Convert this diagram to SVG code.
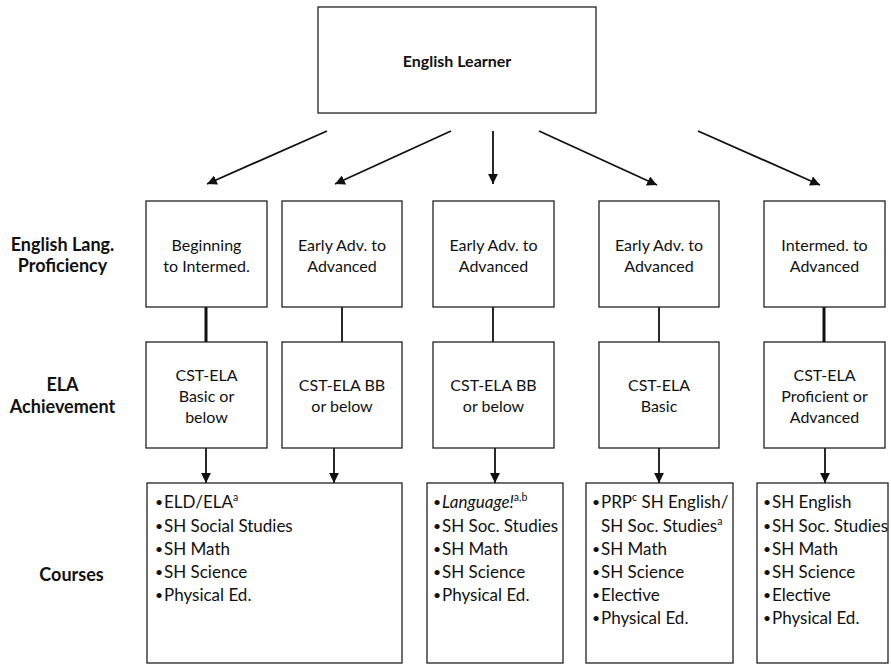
<svg xmlns="http://www.w3.org/2000/svg" width="891" height="665" viewBox="0 0 891 665">
<style>
text{font-family:Lato,"Open Sans","Liberation Sans",sans-serif;fill:#111;font-size:16px}
.c{text-anchor:middle}
.b{font-weight:bold}
.lbl{font-size:18px;font-weight:bold;text-anchor:middle}
.li{font-size:17px}
.bu{font-size:14px}
.box{fill:#fff;stroke:#222;stroke-width:1.3}
.ln{stroke:#111;stroke-width:1.8;fill:none}
.thk{stroke:#111;stroke-width:3;fill:none}
.sup{font-size:10.5px}
</style>
<defs>
<marker id="ah" viewBox="0 0 10 10" refX="10" refY="5" markerWidth="5.5" markerHeight="5.5" orient="auto" markerUnits="strokeWidth">
<path d="M0,0 L10,5 L0,10 z" fill="#111"/>
</marker>
</defs>
<rect width="891" height="665" fill="#fff"/>

<g id="labels">
<text class="lbl" x="62.5" y="251">English Lang.</text>
<text class="lbl" x="62.5" y="272">Proficiency</text>
<text class="lbl" x="62.5" y="391">ELA</text>
<text class="lbl" x="62.5" y="413">Achievement</text>
<text class="lbl" x="71.5" y="581">Courses</text>
</g>

<g id="connectors">
<line class="ln" x1="327" y1="131" x2="207" y2="184" marker-end="url(#ah)"/>
<line class="ln" x1="451" y1="131" x2="335" y2="184" marker-end="url(#ah)"/>
<line class="ln" x1="493" y1="131" x2="493" y2="184" marker-end="url(#ah)"/>
<line class="ln" x1="539" y1="131" x2="657" y2="185" marker-end="url(#ah)"/>
<line class="ln" x1="698" y1="131" x2="820" y2="185" marker-end="url(#ah)"/>
<line class="thk" x1="206" y1="307" x2="206" y2="342"/>
<line class="ln" x1="342" y1="307" x2="342" y2="342"/>
<line class="ln" x1="493" y1="307" x2="493" y2="342"/>
<line class="ln" x1="659" y1="307" x2="659" y2="342"/>
<line class="thk" x1="824" y1="307" x2="824" y2="342"/>
<line class="ln" x1="206" y1="448" x2="206" y2="483" marker-end="url(#ah)"/>
<line class="ln" x1="334" y1="448" x2="334" y2="483" marker-end="url(#ah)"/>
<line class="ln" x1="495" y1="448" x2="495" y2="483" marker-end="url(#ah)"/>
<line class="ln" x1="659" y1="448" x2="659" y2="483" marker-end="url(#ah)"/>
<line class="ln" x1="825" y1="448" x2="825" y2="483" marker-end="url(#ah)"/>
</g>

<g id="english-learner">
<rect class="box" x="318" y="7" width="278" height="106"/>
<text class="c b" x="457" y="67">English Learner</text>
</g>

<g id="elp1">
<rect class="box" x="146" y="201" width="121" height="106"/>
<text class="c" x="206.5" y="251">Beginning</text>
<text class="c" x="206.5" y="272">to Intermed.</text>
</g>
<g id="elp2">
<rect class="box" x="282" y="201" width="120" height="106"/>
<text class="c" x="342" y="251">Early Adv. to</text>
<text class="c" x="342" y="272">Advanced</text>
</g>
<g id="elp3">
<rect class="box" x="433" y="201" width="121" height="106"/>
<text class="c" x="493.5" y="251">Early Adv. to</text>
<text class="c" x="493.5" y="272">Advanced</text>
</g>
<g id="elp4">
<rect class="box" x="599" y="201" width="120" height="106"/>
<text class="c" x="659" y="251">Early Adv. to</text>
<text class="c" x="659" y="272">Advanced</text>
</g>
<g id="elp5">
<rect class="box" x="764" y="201" width="121" height="106"/>
<text class="c" x="824.5" y="251">Intermed. to</text>
<text class="c" x="824.5" y="272">Advanced</text>
</g>

<g id="ela1">
<rect class="box" x="146" y="342" width="121" height="106"/>
<text class="c" x="206.5" y="381">CST-ELA</text>
<text class="c" x="206.5" y="402">Basic or</text>
<text class="c" x="206.5" y="423">below</text>
</g>
<g id="ela2">
<rect class="box" x="282" y="342" width="120" height="106"/>
<text class="c" x="342" y="391">CST-ELA BB</text>
<text class="c" x="342" y="412">or below</text>
</g>
<g id="ela3">
<rect class="box" x="433" y="342" width="121" height="106"/>
<text class="c" x="493.5" y="391">CST-ELA BB</text>
<text class="c" x="493.5" y="412">or below</text>
</g>
<g id="ela4">
<rect class="box" x="599" y="342" width="120" height="106"/>
<text class="c" x="659" y="391">CST-ELA</text>
<text class="c" x="659" y="412">Basic</text>
</g>
<g id="ela5">
<rect class="box" x="764" y="342" width="121" height="106"/>
<text class="c" x="824.5" y="381">CST-ELA</text>
<text class="c" x="824.5" y="402">Proficient or</text>
<text class="c" x="824.5" y="423">Advanced</text>
</g>

<g id="courses1">
<rect class="box" x="147" y="483" width="255" height="180"/>
<text class="bu" x="155" y="507">•</text><text class="li" x="164" y="508">ELD/ELA<tspan class="sup" dy="-7">a</tspan></text>
<text class="bu" x="155" y="531">•</text><text class="li" x="164" y="532">SH Social Studies</text>
<text class="bu" x="155" y="554">•</text><text class="li" x="164" y="555">SH Math</text>
<text class="bu" x="155" y="577">•</text><text class="li" x="164" y="578">SH Science</text>
<text class="bu" x="155" y="600">•</text><text class="li" x="164" y="601">Physical Ed.</text>
</g>
<g id="courses2">
<rect class="box" x="427" y="483" width="136" height="180"/>
<text class="bu" x="433" y="507">•</text><text class="li" x="442" y="508"><tspan font-style="italic">Language!</tspan><tspan class="sup" dy="-7">a,b</tspan></text>
<text class="bu" x="433" y="531">•</text><text class="li" x="442" y="532">SH Soc. Studies</text>
<text class="bu" x="433" y="554">•</text><text class="li" x="442" y="555">SH Math</text>
<text class="bu" x="433" y="577">•</text><text class="li" x="442" y="578">SH Science</text>
<text class="bu" x="433" y="600">•</text><text class="li" x="442" y="601">Physical Ed.</text>
</g>
<g id="courses3">
<rect class="box" x="586" y="483" width="147" height="180"/>
<text class="bu" x="592" y="507">•</text><text class="li" x="601" y="508">PRP<tspan class="sup" dy="-7">c</tspan><tspan dy="7"> SH English/</tspan></text>
<text class="li" x="601" y="532">SH Soc. Studies<tspan class="sup" dy="-7">a</tspan></text>
<text class="bu" x="592" y="554">•</text><text class="li" x="601" y="555">SH Math</text>
<text class="bu" x="592" y="577">•</text><text class="li" x="601" y="578">SH Science</text>
<text class="bu" x="592" y="600">•</text><text class="li" x="601" y="601">Elective</text>
<text class="bu" x="592" y="623">•</text><text class="li" x="601" y="624">Physical Ed.</text>
</g>
<g id="courses4">
<rect class="box" x="757" y="483" width="131" height="180"/>
<text class="bu" x="763" y="507">•</text><text class="li" x="772" y="508">SH English</text>
<text class="bu" x="763" y="531">•</text><text class="li" x="772" y="532">SH Soc. Studies</text>
<text class="bu" x="763" y="554">•</text><text class="li" x="772" y="555">SH Math</text>
<text class="bu" x="763" y="577">•</text><text class="li" x="772" y="578">SH Science</text>
<text class="bu" x="763" y="600">•</text><text class="li" x="772" y="601">Elective</text>
<text class="bu" x="763" y="623">•</text><text class="li" x="772" y="624">Physical Ed.</text>
</g>
</svg>
